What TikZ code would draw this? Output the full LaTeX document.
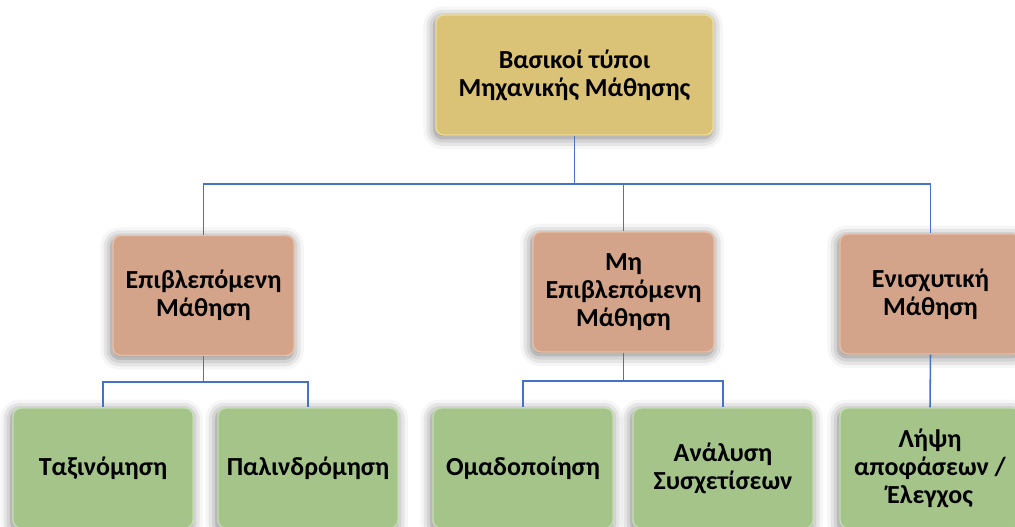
\documentclass[tikz,border=0pt]{standalone}
\usepackage{fontspec}
\setmainfont{Carlito}
\usetikzlibrary{positioning, shadows.blur}

\definecolor{goldfill}{RGB}{218,194,118}
\definecolor{goldline}{RGB}{238,220,150}
\definecolor{salmonfill}{RGB}{212,164,138}
\definecolor{salmonline}{RGB}{232,190,165}
\definecolor{greenfill}{RGB}{164,196,138}
\definecolor{greenline}{RGB}{196,222,176}
\definecolor{linkblue}{RGB}{68,114,196}

\tikzset{
  box/.style={rounded corners=0.2cm, align=center, line width=1pt,
    font=\bfseries\fontsize{18.5}{20}\selectfont,
    blur shadow={shadow xshift=-1pt, shadow yshift=-2pt, shadow blur radius=8pt, shadow opacity=55}},
  rootbox/.style={box, fill=goldfill, draw=goldline, minimum width=6.925cm, minimum height=3cm},
  kindbox/.style={box, fill=salmonfill, draw=salmonline, minimum width=4.525cm, minimum height=3cm},
  taskbox/.style={box, fill=greenfill, draw=greenline, minimum width=4.5cm, minimum height=3cm},
  link/.style={draw=linkblue, line width=1.1pt}
}

\begin{document}
\begin{tikzpicture}[x=0.025cm, y=-0.025cm]
            \useasboundingbox (0,0) rectangle (1015,527);
            \clip (0,0) rectangle (1015,527);

            % Nodes
            \node[rootbox] (root) at (574.5,75) {Βασικοί τύποι\\Μηχανικής Μάθησης};

            \node[kindbox] (sup) at (203.5,295.5) {Επιβλεπόμενη\\Μάθηση};
            \node[kindbox] (unsup) at (623.5,292) {Μη\\Επιβλεπόμενη\\Μάθηση};
            \node[kindbox] (rein) at (930.5,294) {Ενισχυτική\\Μάθηση};

            \node[taskbox] (cls) at (103,468) {Ταξινόμηση};
            \node[taskbox] (reg) at (308,468) {Παλινδρόμηση};
            \node[taskbox] (clu) at (523,468) {Ομαδοποίηση};
            \node[taskbox] (asc) at (723,468) {Ανάλυση\\Συσχετίσεων};
            \node[taskbox] (ctl) at (930,468) {Λήψη\\αποφάσεων /\\Έλεγχος};

            % Junctions
            \coordinate (j0) at (574.5,184);
            \coordinate (j1) at (203.5,382);
            \coordinate (j2) at (623.5,381);

            % Edges
            \draw[link] (root.south) -- (j0);
            \draw[link] (j0) -| (sup.north);
            \draw[link] (j0) -| (unsup.north);
            \draw[link] (j0) -| (rein.north);

            \draw[link] (sup.south) -- (j1);
            \draw[link] (j1) -| (cls.north);
            \draw[link] (j1) -| (reg.north);

            \draw[link] (unsup.south) -- (j2);
            \draw[link] (j2) -| (clu.north);
            \draw[link] (j2) -| (asc.north);

            \draw[link] (rein.south) -- (ctl.north);
        \end{tikzpicture}
\end{document}
